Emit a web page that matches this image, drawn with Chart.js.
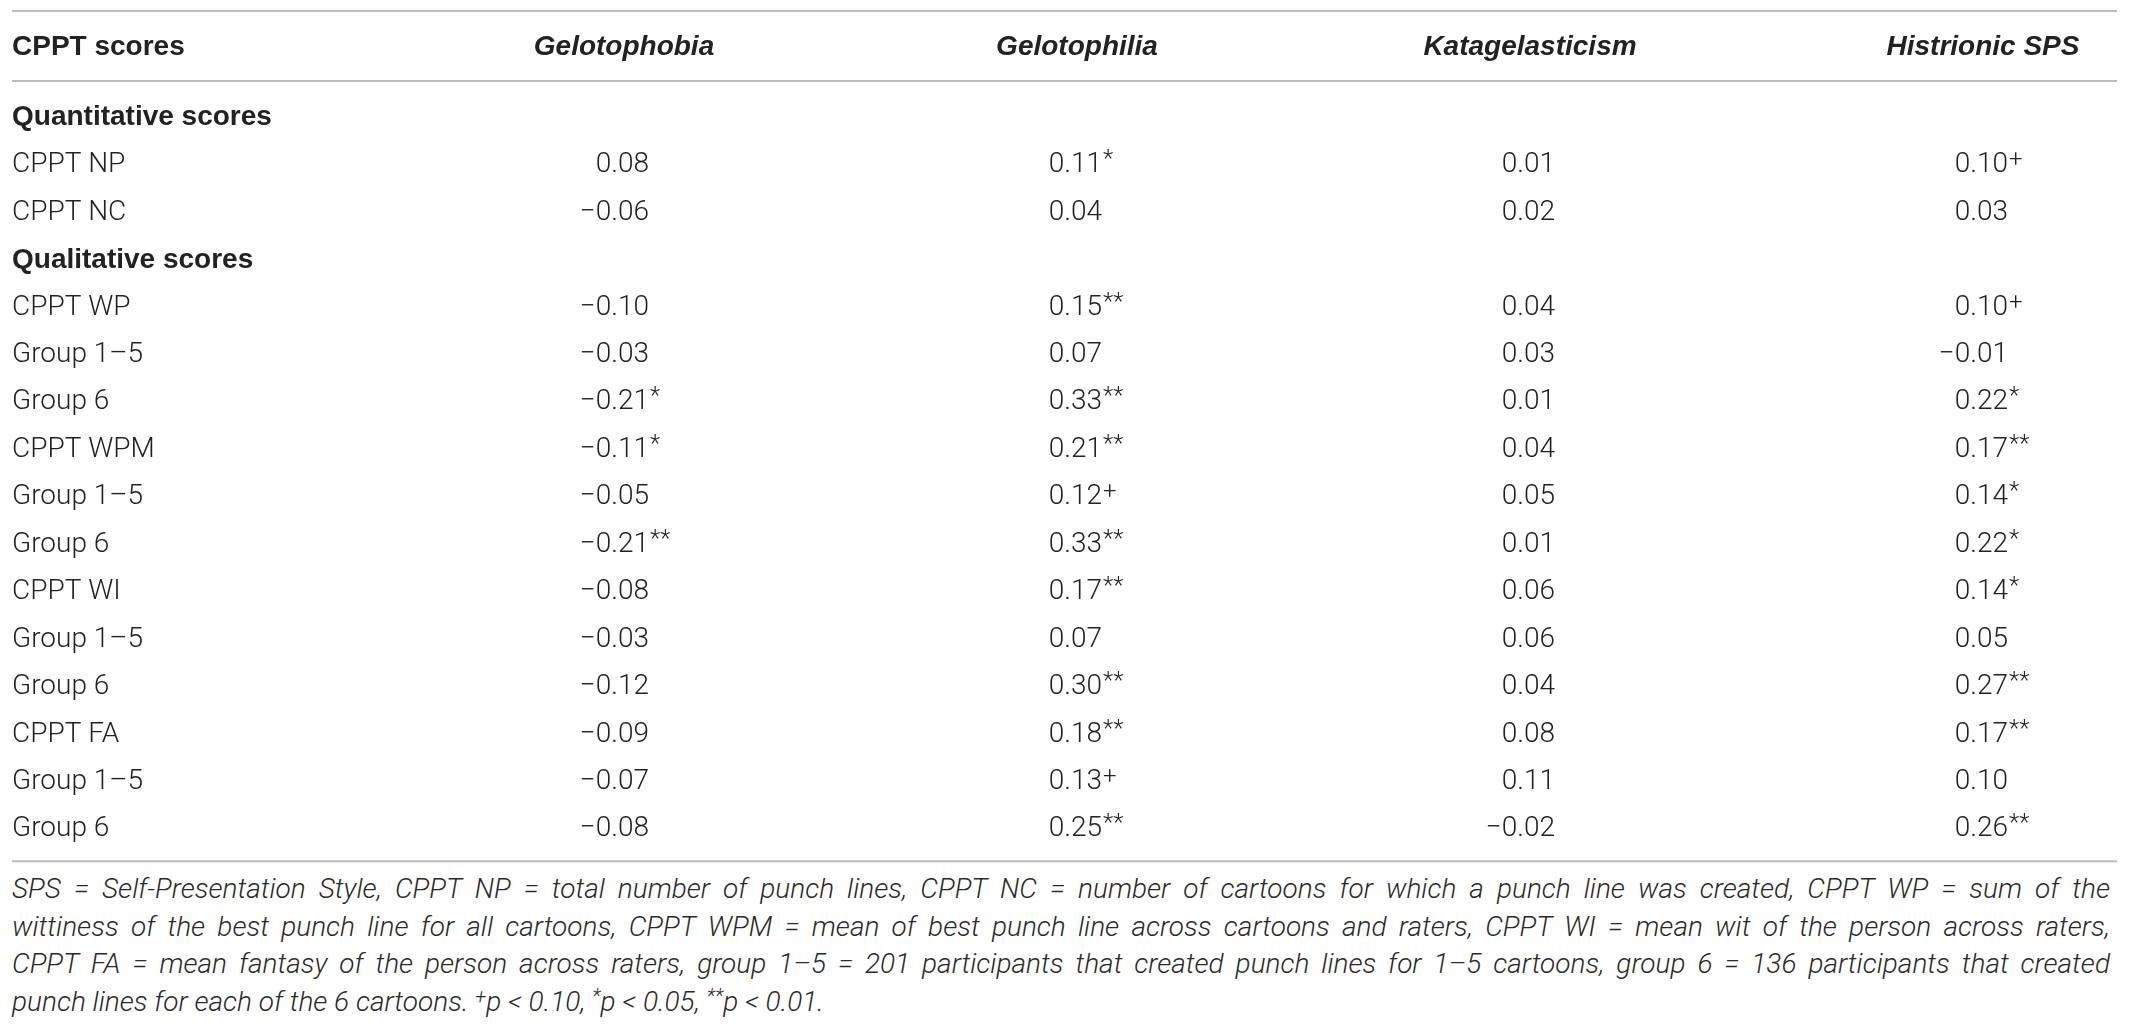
<!DOCTYPE html>
<html>
<head>
<meta charset="utf-8">
<title>CPPT scores correlations</title>
<script src="https://cdn.jsdelivr.net/npm/chart.js@4.4.1/dist/chart.umd.min.js"></script>
<style>
  body { margin: 0; background: #fff; }
  #wrap { position: relative; width: 2129px; height: 870px; }
  #notes { margin-left: 12px; width: 2098px; font: italic 300 28px Roboto, sans-serif; line-height: 37.5px; color: #2a2a2a; }
  #notes .j { text-align: justify; text-align-last: justify; }
  #notes sup { font-size: 20px; vertical-align: 8px; line-height: 0; }
</style>
</head>
<body>
<div id="wrap"><canvas id="table"></canvas></div>
<div id="notes">
  <div class="j">SPS = Self-Presentation Style, CPPT NP = total number of punch lines, CPPT NC = number of cartoons for which a punch line was created, CPPT WP = sum of the</div>
  <div class="j">wittiness of the best punch line for all cartoons, CPPT WPM = mean of best punch line across cartoons and raters, CPPT WI = mean wit of the person across raters,</div>
  <div class="j">CPPT FA = mean fantasy of the person across raters, group 1–5 = 201 participants that created punch lines for 1–5 cartoons, group 6 = 136 participants that created</div>
  <div>punch lines for each of the 6 cartoons. <sup>+</sup>p &lt; 0.10, <sup>*</sup>p &lt; 0.05, <sup>**</sup>p &lt; 0.01.</div>
</div>
<script>
/* table data */
const rowHeader = "CPPT scores";
const rowLabels = ["Quantitative scores", "CPPT NP", "CPPT NC", "Qualitative scores", "CPPT WP", "Group 1–5", "Group 6", "CPPT WPM", "Group 1–5", "Group 6", "CPPT WI", "Group 1–5", "Group 6", "CPPT FA", "Group 1–5", "Group 6"];
const sectionRows = ["Quantitative scores", "Qualitative scores"];
const columnLabels = ["Gelotophobia", "Gelotophilia", "Katagelasticism", "Histrionic SPS"];

const gelotophobia = [null, 0.08, -0.06, null, -0.10, -0.03, -0.21, -0.11, -0.05, -0.21, -0.08, -0.03, -0.12, -0.09, -0.07, -0.08];
const gelotophobiaSig = ["", "", "", "", "", "", "*", "*", "", "**", "", "", "", "", "", ""];
const gelotophilia = [null, 0.11, 0.04, null, 0.15, 0.07, 0.33, 0.21, 0.12, 0.33, 0.17, 0.07, 0.30, 0.18, 0.13, 0.25];
const gelotophiliaSig = ["", "*", "", "", "**", "", "**", "**", "+", "**", "**", "", "**", "**", "+", "**"];
const katagelasticism = [null, 0.01, 0.02, null, 0.04, 0.03, 0.01, 0.04, 0.05, 0.01, 0.06, 0.06, 0.04, 0.08, 0.11, -0.02];
const katagelasticismSig = ["", "", "", "", "", "", "", "", "", "", "", "", "", "", "", ""];
const histrionic = [null, 0.10, 0.03, null, 0.10, -0.01, 0.22, 0.17, 0.14, 0.22, 0.14, 0.05, 0.27, 0.17, 0.10, 0.26];
const histrionicSig = ["", "+", "", "", "+", "", "*", "**", "*", "*", "*", "", "**", "**", "", "**"];

const columnValues = [gelotophobia, gelotophilia, katagelasticism, histrionic];
const columnSigs = [gelotophobiaSig, gelotophiliaSig, katagelasticismSig, histrionicSig];

const textColor = "#222";
const ruleColor = "#bdbdbd";
const bodyFamily = "Roboto, 'Liberation Sans', sans-serif";
const headFamily = "'Liberation Sans', Arial, sans-serif";
const headPadding = 30.2;

// one invisible point per cell, the plugin below writes the number there
let datasets = columnLabels.map((col, c) => ({
  label: col,
  data: rowLabels.map((row, i) => ({ x: col, y: row, v: columnValues[c][i], sig: columnSigs[c][i] })),
  pointRadius: 0,
  pointHoverRadius: 0,
}));

const cellText = {
  id: "cellText",
  afterDatasetsDraw(chart) {
    const ctx = chart.ctx;
    const area = chart.chartArea;
    ctx.save();
    ctx.fillStyle = textColor;
    ctx.textBaseline = "middle";

    chart.data.datasets.forEach((ds, c) => {
      chart.getDatasetMeta(c).data.forEach((pt, i) => {
        const d = ds.data[i];
        if (d.v === null) return;
        let txt = (d.v < 0 ? "\u2212" : "") + Math.abs(d.v).toFixed(2);
        let right = pt.x + 25;
        ctx.font = "300 28px " + bodyFamily;
        ctx.textAlign = "right";
        ctx.fillText(txt, right, pt.y);
        if (d.sig) {
          ctx.font = "300 24px " + bodyFamily;
          ctx.textAlign = "left";
          ctx.fillText(d.sig, right + 1, pt.y - (d.sig === "+" ? 4 : 5));
        }
      });
    });

    // corner header
    ctx.font = "bold 28px " + headFamily;
    ctx.textAlign = "left";
    ctx.fillText(rowHeader, 12, area.top - headPadding - 16.8);

    // horizontal rules
    ctx.strokeStyle = ruleColor;
    ctx.lineWidth = 2;
    [11, area.top - 13, area.bottom + 8].forEach((y) => {
      ctx.beginPath();
      ctx.moveTo(12, y);
      ctx.lineTo(2117, y);
      ctx.stroke();
    });
    ctx.restore();
  },
};

let table = new Chart(document.getElementById("table"), {
  type: "scatter",
  data: { datasets: datasets },
  plugins: [cellText],
  options: {
    responsive: true,
    maintainAspectRatio: false,
    animation: false,
    events: [],
    layout: { padding: { left: 12, right: 146, top: 0, bottom: 15.75 } },
    plugins: {
      legend: { display: false },
      tooltip: { enabled: false },
    },
    scales: {
      x: {
        type: "category",
        labels: columnLabels,
        position: "top",
        offset: false,
        grid: { display: false, drawTicks: false },
        border: { display: false },
        ticks: {
          padding: headPadding,
          color: textColor,
          maxRotation: 0,
          autoSkip: false,
          font: { family: headFamily, size: 28, weight: "bold", style: "italic" },
        },
      },
      y: {
        type: "category",
        labels: rowLabels,
        offset: true,
        grid: { display: false, drawTicks: false },
        border: { display: false },
        afterFit(scale) {
          scale.width = 612;
        },
        ticks: {
          crossAlign: "far",
          autoSkip: false,
          padding: 0,
          color: textColor,
          font: (ctx) =>
            sectionRows.includes(rowLabels[ctx.index])
              ? { family: headFamily, size: 28, weight: "bold" }
              : { family: bodyFamily, size: 28, weight: 300 },
        },
      },
    },
  },
});
</script>
</body>
</html>
